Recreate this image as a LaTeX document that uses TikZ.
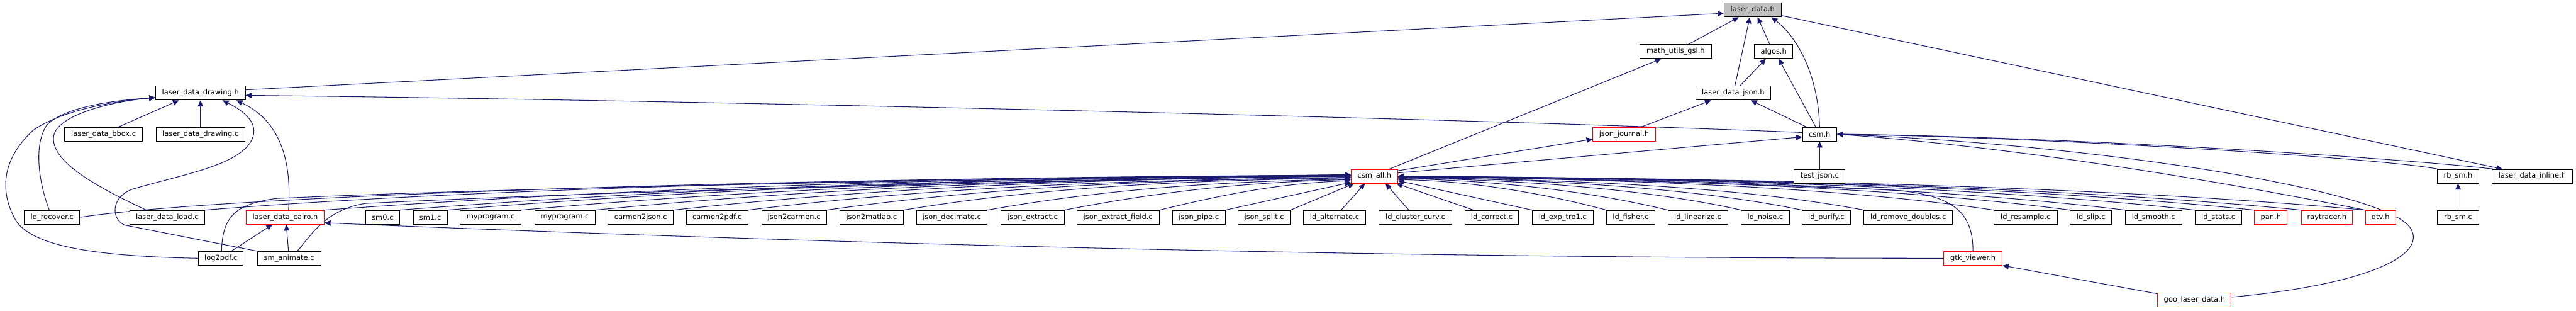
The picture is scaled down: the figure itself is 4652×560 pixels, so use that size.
\documentclass[tikz,border=0pt]{standalone}
\usepackage{fontspec}
\setmainfont{DejaVu Sans}
\usetikzlibrary{arrows.meta,calc}
\definecolor{ecol}{HTML}{191970}
\definecolor{gfill}{HTML}{BFBFBF}
\pgfdeclarelayer{bg}
\pgfsetlayers{bg,main}
\begin{document}
\begin{tikzpicture}[x=1pt,y=-1pt,
  nb/.style={draw=black, line width=1.1pt, fill=white, minimum height=25pt, inner sep=0pt, font=\fontsize{13}{15}\selectfont},
  nr/.style={nb, draw=red},
  e/.style={draw=ecol, line width=1.2pt, -{Triangle[length=11pt,width=10pt]}},
]
\useasboundingbox (0,0) rectangle (4652,560);

% nodes
\node[nb,fill=gfill,minimum width=103pt] (ld) at (3165,18) {laser\_data.h};
\node[nb,minimum width=129pt] (mug) at (3026,93) {math\_utils\_gsl.h};
\node[nb,minimum width=69pt] (alg) at (3203,93) {algos.h};
\node[nb,minimum width=162pt] (ldd) at (362,168) {laser\_data\_drawing.h};
\node[nb,minimum width=136pt] (ldj) at (3130,168) {laser\_data\_json.h};
\node[nb,minimum width=141pt] (bbox) at (187,242) {laser\_data\_bbox.c};
\node[nb,minimum width=160pt] (lddc) at (362,242) {laser\_data\_drawing.c};
\node[nr,minimum width=113pt] (jj) at (2933,242) {json\_journal.h};
\node[nb,minimum width=62pt] (csm) at (3286,242) {csm.h};
\node[nr,minimum width=84pt] (csmall) at (2482,318) {csm\_all.h};
\node[nb,minimum width=92pt] (tj) at (3286,318) {test\_json.c};
\node[nb,minimum width=75pt] (rbh) at (4439,318) {rb\_sm.h};
\node[nb,minimum width=145pt] (ldi) at (4573,318) {laser\_data\_inline.h};

\node[nb,minimum width=100pt] (rec) at (94,392) {ld\_recover.c};
\node[nb,minimum width=136pt] (load) at (302,392) {laser\_data\_load.c};
\node[nr,minimum width=141pt] (cairo) at (515,392) {laser\_data\_cairo.h};
\node[nb,minimum width=61pt] (sm0) at (691,392) {sm0.c};
\node[nb,minimum width=61pt] (sm1) at (777,392) {sm1.c};
\node[nb,minimum width=110pt] (myp1) at (886,392) {myprogram.c};
\node[nb,minimum width=109pt] (myp2) at (1020,392) {myprogram.c};
\node[nb,minimum width=118pt] (c2j) at (1157,392) {carmen2json.c};
\node[nb,minimum width=111pt] (c2p) at (1295,392) {carmen2pdf.c};
\node[nb,minimum width=117pt] (j2c) at (1434,392) {json2carmen.c};
\node[nb,minimum width=115pt] (j2m) at (1574,392) {json2matlab.c};
\node[nb,minimum width=128pt] (jdec) at (1719,392) {json\_decimate.c};
\node[nb,minimum width=114pt] (jext) at (1865,392) {json\_extract.c};
\node[nb,minimum width=149pt] (jef) at (2019,392) {json\_extract\_field.c};
\node[nb,minimum width=95pt] (jpipe) at (2165,392) {json\_pipe.c};
\node[nb,minimum width=94pt] (jsplit) at (2283,392) {json\_split.c};
\node[nb,minimum width=112pt] (lalt) at (2410,392) {ld\_alternate.c};
\node[nb,minimum width=131pt] (lcc) at (2556,392) {ld\_cluster\_curv.c};
\node[nb,minimum width=97pt] (lcor) at (2694,392) {ld\_correct.c};
\node[nb,minimum width=110pt] (lexp) at (2822,392) {ld\_exp\_tro1.c};
\node[nb,minimum width=87pt] (lfis) at (2945,392) {ld\_fisher.c};
\node[nb,minimum width=108pt] (llin) at (3066,392) {ld\_linearize.c};
\node[nb,minimum width=87pt] (lnoi) at (3188,392) {ld\_noise.c};
\node[nb,minimum width=87pt] (lpur) at (3298,392) {ld\_purify.c};
\node[nb,minimum width=160pt] (lrd) at (3446,392) {ld\_remove\_doubles.c};
\node[nb,minimum width=114pt] (lres) at (3658,392) {ld\_resample.c};
\node[nb,minimum width=75pt] (lslip) at (3776,392) {ld\_slip.c};
\node[nb,minimum width=102pt] (lsmo) at (3889,392) {ld\_smooth.c};
\node[nb,minimum width=84pt] (lsta) at (4006,392) {ld\_stats.c};
\node[nr,minimum width=59pt] (pan) at (4101,392) {pan.h};
\node[nr,minimum width=92pt] (ray) at (4202,392) {raytracer.h};
\node[nr,minimum width=55pt] (qtv) at (4299,392) {qtv.h};
\node[nb,minimum width=74pt] (rbc) at (4439,392) {rb\_sm.c};

\node[nb,minimum width=81pt] (l2p) at (399,466) {log2pdf.c};
\node[nb,minimum width=115pt] (sma) at (522,466) {sm\_animate.c};
\node[nr,minimum width=106pt] (gtk) at (3563,466) {gtk\_viewer.h};
\node[nr,minimum width=133pt] (goo) at (3963,541) {goo\_laser\_data.h};

\begin{pgfonlayer}{bg}
\fill[white] (0,0) rectangle (4652,560);
% edges to laser_data.h
\draw[e] ($(ldd.east)+(0,-6)$) -- ($(ld.west)+(0,6)$);
\draw[e] ($(mug.north)+(23,0)$) -- ($(ld.south)+(-25,0)$);
\draw[e] ($(ldj.north)+(3,0)$) -- ($(ld.south)+(-5,0)$);
\draw[e] ($(alg.north)+(-7,0)$) -- ($(ld.south)+(9,0)$);
\draw[e] (csm.north) .. controls (3284,150) and (3255,75) .. ($(ld.south)+(34,0)$);
\draw[e] ($(ld.east)+(0,10)$) -- ($(ldi.north)+(-54,0)$);
% upper middle
\draw[e] ($(jj.north)+(31,0)$) -- ($(ldj.south)+(-40,0)$);
\draw[e] ($(csm.north)+(-24,0)$) -- ($(ldj.south)+(32,0)$);
\draw[e] ($(csm.north)+(-7,0)$) -- ($(alg.south)+(9,0)$);
\draw[e] ($(ldj.north)+(12,0)$) -- ($(alg.south)+(-14,0)$);
\draw[e] (tj.north) -- (csm.south);
\draw[e] ($(csmall.north)+(27,0)$) -- ($(mug.south)+(-26,0)$);
\draw[e] ($(csmall.north east)+(0,3)$) -- ($(jj.west)+(0,9)$);
\draw[e] ($(csmall.east)+(0,-6)$) -- ($(csm.west)+(0,5)$);
\draw[e] ($(csm.west)+(0,-3)$) .. controls (2600,212) and (1200,180) .. ($(ldd.east)+(0,4)$);
% into csm.h from the right
\draw[e] ($(rbh.north west)+(2,0)$) .. controls (4300,285) and (3700,248) .. (csm.east);
\draw[e] ($(ldi.north west)+(4,0)$) .. controls (4300,282) and (3700,246) .. (csm.east);
\draw[e] ($(goo.east)+(0,-5)$) .. controls (4260,515) and (4380,465) .. (4355,415) .. controls (4325,345) and (3800,262) .. (csm.east);
\draw[e] (qtv.north west) .. controls (4100,345) and (3700,270) .. (csm.east);
\draw[e] (rbc.north) -- (rbh.south);
% gtk / goo
\draw[e] (gtk.west) .. controls (2500,466) and (1500,440) .. ($(cairo.east)+(0,10)$);
\draw[e] (gtk.north) .. controls (3563,385) and (3530,352) .. (3420,343) .. controls (3100,330) and (2800,320) .. ($(csmall.east)+(0,1)$);
\draw[e] ($(goo.north west)+(0,2)$) -- (gtk.south east);
% laser_data_drawing.h
\draw[e] ($(cairo.north)+(6,0)$) .. controls (528,280) and (500,215) .. ($(ldd.south)+(65,0)$);
\draw[e] ($(bbox.north)+(27,0)$) -- ($(ldd.south)+(-39,0)$);
\draw[e] (lddc.north) -- (ldd.south);
\draw[e] (sma.north west) -- (225,406) .. controls (200,395) and (200,355) .. (240,341) .. controls (330,315) and (420,300) .. (450,260) .. controls (475,225) and (440,200) .. ($(ldd.south)+(40,0)$);
\draw[e] (l2p.west) .. controls (150,462) and (60,440) .. (30,400) .. controls (0,350) and (0,290) .. (60,235) .. controls (110,200) and (200,183) .. ($(ldd.west)+(0,8)$);
\draw[e] ($(rec.north)+(-5,0)$) .. controls (70,330) and (60,260) .. (85,225) .. controls (120,190) and (220,180) .. ($(ldd.west)+(0,8)$);
\draw[e] ($(load.north)+(-38,0)$) .. controls (170,335) and (90,290) .. (97,245) .. controls (105,205) and (210,182) .. ($(ldd.west)+(0,8)$);
% laser_data_cairo.h
\draw[e] ($(l2p.north)+(19,0)$) -- ($(cairo.south)+(-23,0)$);
\draw[e] ($(sma.north)+(-1,0)$) -- ($(cairo.south)+(2,0)$);
% into csm_all.h from the left
\draw[e] ($(l2p.north)+(1,0)$) .. controls (402,395) and (420,368) .. (500,358) .. controls (1000,335) and (1900,322) .. ($(csmall.west)+(0,-3)$);
\draw[e] ($(sma.north)+(15,0)$) .. controls (565,420) and (590,378) .. (660,367) .. controls (1200,340) and (2000,325) .. ($(csmall.west)+(0,-1)$);
\draw[e] (rec.east) .. controls +(260,-40) and +(-1000,4) .. ($(csmall.west)+(0,-2)$);
\draw[e] (load.north east) .. controls +(500,-40) and +(-828,5) .. ($(csmall.west)+(0,-2)$);
\draw[e] (cairo.north east) .. controls +(556,-40) and +(-742,5) .. ($(csmall.west)+(0,-2)$);
\draw[e] (sm0.north east) .. controls +(515,-40) and +(-687,5) .. ($(csmall.west)+(0,-1)$);
\draw[e] (sm1.north east) .. controls +(490,-40) and +(-653,5) .. ($(csmall.west)+(0,-1)$);
\draw[e] (myp1.north east) .. controls +(450,-40) and +(-600,5) .. (csmall.west);
\draw[e] (myp2.north east) .. controls +(410,-40) and +(-546,5) .. (csmall.west);
\draw[e] (c2j.north east) .. controls +(367,-40) and +(-490,5) .. (csmall.west);
\draw[e] (c2p.north east) .. controls +(327,-40) and +(-436,5) .. ($(csmall.west)+(0,2)$);
\draw[e] (j2c.north east) .. controls +(284,-40) and +(-379,5) .. ($(csmall.west)+(0,2)$);
\draw[e] (j2m.north east) .. controls +(242,-40) and +(-323,5) .. ($(csmall.west)+(0,3)$);
\draw[e] (jdec.north east) .. controls +(197,-35) and +(-263,5) .. ($(csmall.west)+(0,5)$);
\draw[e] (jext.north east) .. controls +(155,-30) and +(-207,5) .. ($(csmall.west)+(0,6)$);
\draw[e] (jef.north east) .. controls +(104,-25) and +(-138,5) .. ($(csmall.west)+(0,8)$);
\draw[e] (jpipe.north east) -- ($(csmall.south west)+(0,-2)$);
\draw[e] (jsplit.north east) -- ($(csmall.south west)+(6,0)$);
% into csm_all.h from below / right
\draw[e] ($(lalt.north)+(12,0)$) -- ($(csmall.south)+(-17,0)$);
\draw[e] ($(lcc.north)+(-12,0)$) -- ($(csmall.south)+(20,0)$);
\draw[e] ($(lcor.north west)+(16,0)$) -- ($(csmall.south east)+(-3,0)$);
\draw[e] (lexp.north west) -- ($(csmall.east)+(0,8)$);
\draw[e] (lfis.north west) .. controls +(-94,-25) and +(150,3) .. ($(csmall.east)+(0,6)$);
\draw[e] (llin.north west) .. controls +(-122,-30) and +(195,4) .. ($(csmall.east)+(0,4)$);
\draw[e] (lnoi.north west) .. controls +(-155,-35) and +(248,4) .. ($(csmall.east)+(0,3)$);
\draw[e] (lpur.north west) .. controls +(-183,-38) and +(292,4) .. ($(csmall.east)+(0,2)$);
\draw[e] (lrd.north west) .. controls +(-210,-40) and +(337,4) .. ($(csmall.east)+(0,2)$);
\draw[e] (lres.north west) .. controls +(-270,-40) and +(430,4) .. ($(csmall.east)+(0,1)$);
\draw[e] (lslip.north west) .. controls +(-304,-40) and +(486,4) .. ($(csmall.east)+(0,1)$);
\draw[e] (lsmo.north west) .. controls +(-330,-40) and +(525,4) .. (csmall.east);
\draw[e] (lsta.north west) .. controls +(-360,-40) and +(576,4) .. (csmall.east);
\draw[e] (pan.north west) .. controls +(-387,-40) and +(619,4) .. (csmall.east);
\draw[e] (ray.north west) .. controls +(-408,-40) and +(653,4) .. (csmall.east);
\draw[e] (qtv.north west) .. controls +(-437,-40) and +(700,4) .. (csmall.east);
\end{pgfonlayer}
\end{tikzpicture}
\end{document}
